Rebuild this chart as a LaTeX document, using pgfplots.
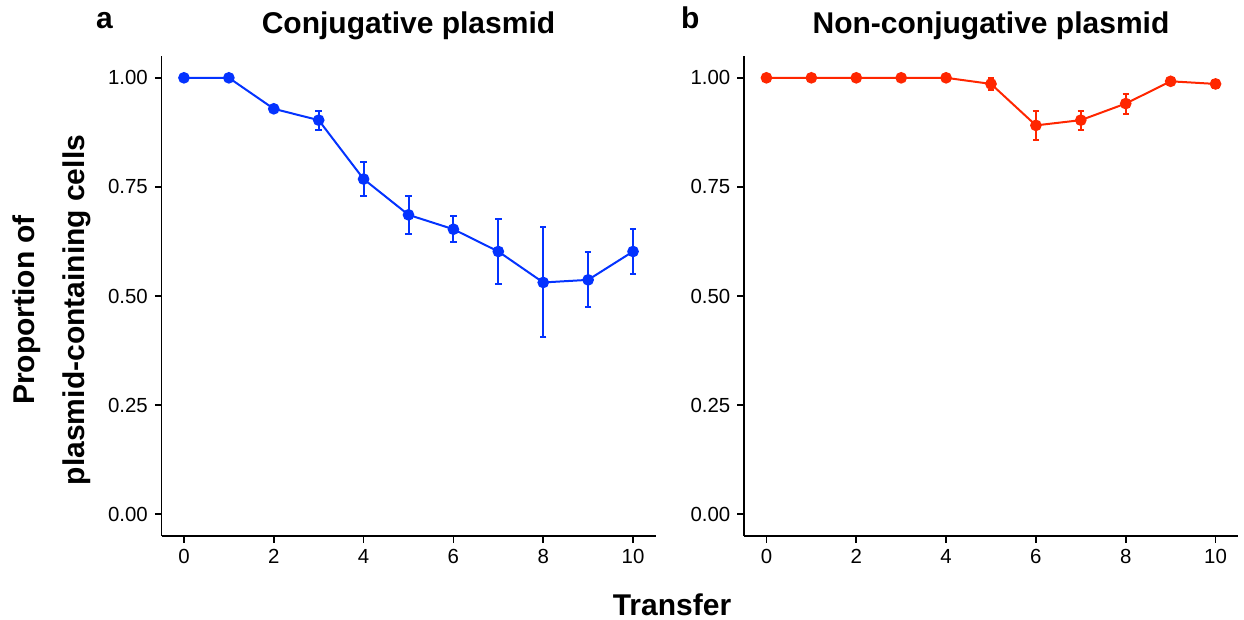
\documentclass[border=0pt]{standalone}
\usepackage{pgfplots}
\pgfplotsset{compat=1.18}
\usepackage{pgfplotstable}
\usepackage{fontspec}
\setmainfont{Liberation Sans}
\definecolor{cblue}{HTML}{0433FF}
\definecolor{cred}{HTML}{FF2600}

\pgfplotstableread{
x y ep em
0 1.000 0 0
1 1.000 0 0
2 0.929 0 0
3 0.903 0.022 0.022
4 0.768 0.039 0.038
5 0.686 0.044 0.045
6 0.653 0.030 0.029
7 0.602 0.074 0.074
8 0.531 0.127 0.126
9 0.537 0.063 0.062
10 0.602 0.052 0.052
}\conj

\pgfplotstableread{
x y ep em
0 1.000 0 0
1 1.000 0 0
2 1.000 0 0
3 1.000 0 0
4 1.000 0 0
5 0.986 0.013 0.013
6 0.891 0.034 0.034
7 0.903 0.022 0.022
8 0.941 0.023 0.023
9 0.992 0.003 0.003
10 0.986 0.010 0.010
}\nonconj

\pgfplotsset{panel/.style={
  scale only axis, width=247pt, height=240pt,
  xmin=-0.5, xmax=10.5, ymin=-0.05, ymax=1.05,
  axis lines=left,
  axis line style={-, line width=0.8pt, black},
  tick style={line width=0.8pt, black},
  major tick length=3.3pt, tick align=outside,
  xtick={0,2,...,10}, ytick={0,0.25,0.5,0.75,1},
  yticklabel style={/pgf/number format/fixed, /pgf/number format/fixed zerofill, /pgf/number format/precision=2},
  ticklabel style={font=\fontsize{10.2}{12}\selectfont},
  /pgf/number format/assume math mode=true,
  clip=false,
}}

\begin{document}
\begin{tikzpicture}
\useasboundingbox (0pt,0pt) rectangle (622pt,-310pt);
\begin{axis}[panel, anchor=south west, at={(80.75pt,-268pt)}]
\addplot[cblue, line width=1pt, mark=*, mark size=2.4pt, mark options={solid},
  error bars/.cd, y dir=both, y explicit,
  error bar style={line width=1pt},
  error mark=-,
  error mark options={rotate=90, line width=1pt, mark size=1.6pt}]
  table[x=x, y=y, y error plus=ep, y error minus=em] {\conj};
\end{axis}
\begin{axis}[panel, anchor=south west, at={(372pt,-268pt)}]
\addplot[cred, line width=1pt, mark=*, mark size=2.4pt, mark options={solid},
  error bars/.cd, y dir=both, y explicit,
  error bar style={line width=1pt},
  error mark=-,
  error mark options={rotate=90, line width=1pt, mark size=1.6pt}]
  table[x=x, y=y, y error plus=ep, y error minus=em] {\nonconj};
\end{axis}
\node[anchor=base west, font=\fontsize{15}{18}\bfseries\selectfont] at (44.5pt,-14.5pt) {a};
\node[anchor=base west, font=\fontsize{15}{18}\bfseries\selectfont] at (337pt,-14.5pt) {b};
\node[anchor=base, font=\fontsize{15}{18}\bfseries\selectfont] at (204.25pt,-17pt) {Conjugative plasmid};
\node[anchor=base, font=\fontsize{15}{18}\bfseries\selectfont] at (495.5pt,-17pt) {Non-conjugative plasmid};
\node[anchor=base, font=\fontsize{15}{18}\bfseries\selectfont] at (336pt,-308pt) {Transfer};
\node[rotate=90, align=center, font=\fontsize{15}{25}\bfseries\selectfont] at (26pt,-155pt) {Proportion of\\plasmid-containing cells};
\end{tikzpicture}
\end{document}
